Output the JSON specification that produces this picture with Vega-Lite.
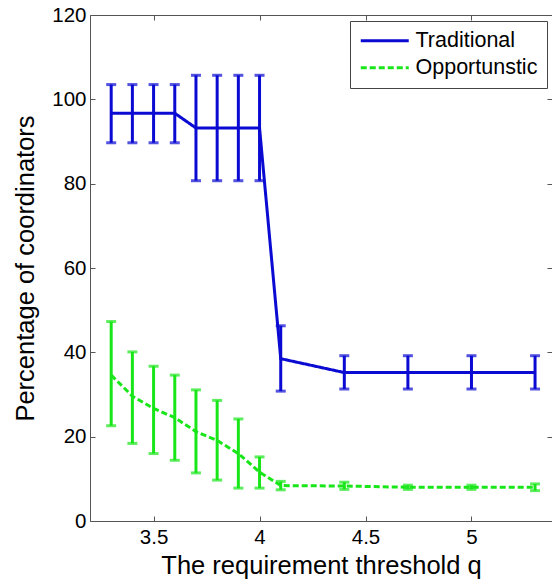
{
  "$schema": "https://vega.github.io/schema/vega-lite/v6.json",
  "width": 462,
  "height": 506,
  "autosize": {"type": "none"},
  "padding": {"left": 90, "top": 15, "right": 0, "bottom": 60},
  "config": {
    "view": {"stroke": null},
    "font": "Liberation Sans",
    "axis": {
      "grid": false,
      "domainColor": "#555555",
      "tickColor": "#555555",
      "tickSize": -5,
      "labelFont": "Liberation Sans",
      "labelFontSize": 20.5,
      "labelColor": "#000000",
      "titleFont": "Liberation Sans",
      "titleFontSize": 25.5,
      "titleFontWeight": "normal",
      "titleColor": "#000000"
    }
  },
  "data": {
    "values": [
      {"q": 3.3, "series": "Traditional", "mean": 96.7, "lo": 89.7, "hi": 103.5},
      {"q": 3.4, "series": "Traditional", "mean": 96.7, "lo": 89.7, "hi": 103.5},
      {"q": 3.5, "series": "Traditional", "mean": 96.7, "lo": 89.7, "hi": 103.5},
      {"q": 3.6, "series": "Traditional", "mean": 96.7, "lo": 89.7, "hi": 103.5},
      {"q": 3.7, "series": "Traditional", "mean": 93.2, "lo": 80.7, "hi": 105.7},
      {"q": 3.8, "series": "Traditional", "mean": 93.2, "lo": 80.7, "hi": 105.7},
      {"q": 3.9, "series": "Traditional", "mean": 93.2, "lo": 80.7, "hi": 105.7},
      {"q": 4.0, "series": "Traditional", "mean": 93.2, "lo": 80.7, "hi": 105.7},
      {"q": 4.1, "series": "Traditional", "mean": 38.5, "lo": 30.8, "hi": 46.3},
      {"q": 4.4, "series": "Traditional", "mean": 35.2, "lo": 31.3, "hi": 39.2},
      {"q": 4.7, "series": "Traditional", "mean": 35.2, "lo": 31.3, "hi": 39.2},
      {"q": 5.0, "series": "Traditional", "mean": 35.2, "lo": 31.3, "hi": 39.2},
      {"q": 5.3, "series": "Traditional", "mean": 35.2, "lo": 31.3, "hi": 39.2},
      {"q": 3.3, "series": "Opportunstic", "mean": 34.6, "lo": 22.6, "hi": 47.3},
      {"q": 3.4, "series": "Opportunstic", "mean": 29.6, "lo": 18.4, "hi": 40.1},
      {"q": 3.5, "series": "Opportunstic", "mean": 26.7, "lo": 16.0, "hi": 36.7},
      {"q": 3.6, "series": "Opportunstic", "mean": 24.5, "lo": 14.4, "hi": 34.6},
      {"q": 3.7, "series": "Opportunstic", "mean": 21.2, "lo": 11.4, "hi": 31.1},
      {"q": 3.8, "series": "Opportunstic", "mean": 19.1, "lo": 9.7, "hi": 28.6},
      {"q": 3.9, "series": "Opportunstic", "mean": 16.0, "lo": 7.8, "hi": 24.2},
      {"q": 4.0, "series": "Opportunstic", "mean": 11.6, "lo": 7.8, "hi": 15.2},
      {"q": 4.1, "series": "Opportunstic", "mean": 8.4, "lo": 7.4, "hi": 9.4},
      {"q": 4.4, "series": "Opportunstic", "mean": 8.3, "lo": 7.5, "hi": 9.2},
      {"q": 4.7, "series": "Opportunstic", "mean": 8.0, "lo": 7.5, "hi": 8.5},
      {"q": 5.0, "series": "Opportunstic", "mean": 8.0, "lo": 7.5, "hi": 8.5},
      {"q": 5.3, "series": "Opportunstic", "mean": 8.0, "lo": 7.2, "hi": 8.8}
    ]
  },
  "resolve": {
    "axis": {"x": "independent", "y": "independent"},
    "legend": {"color": "independent", "strokeDash": "independent"}
  },
  "layer": [
    {
      "mark": {"type": "rule", "strokeWidth": 3},
      "encoding": {
        "x": {"field": "q", "type": "quantitative", "scale": {"domain": [3.2, 5.38], "nice": false, "zero": false},
          "axis": {"orient": "top", "labels": false, "title": null, "values": [3.5, 4, 4.5, 5], "domain": true}},
        "y": {"field": "lo", "type": "quantitative", "scale": {"domain": [0, 120], "nice": false},
          "axis": {"orient": "right", "labels": false, "title": null, "domain": false, "values": [0, 20, 40, 60, 80, 100, 120]}},
        "y2": {"field": "hi"},
        "color": {"field": "series", "type": "nominal", "scale": {"domain": ["Traditional", "Opportunstic"], "range": ["#0a0ad2", "#19e619"]}, "legend": null}
      }
    },
    {
      "mark": {"type": "tick", "orient": "horizontal", "size": 10, "thickness": 3},
      "encoding": {
        "x": {"field": "q", "type": "quantitative", "axis": null},
        "y": {"field": "lo", "type": "quantitative", "axis": null},
        "color": {"field": "series", "type": "nominal", "legend": null}
      }
    },
    {
      "mark": {"type": "tick", "orient": "horizontal", "size": 10, "thickness": 3},
      "encoding": {
        "x": {"field": "q", "type": "quantitative", "axis": null},
        "y": {"field": "hi", "type": "quantitative", "axis": null},
        "color": {"field": "series", "type": "nominal", "legend": null}
      }
    },
    {
      "mark": {"type": "line", "strokeWidth": 3},
      "encoding": {
        "x": {"field": "q", "type": "quantitative",
          "axis": {"orient": "bottom", "title": "The requirement threshold q", "values": [3.5, 4, 4.5, 5], "format": "~g", "labelPadding": 11, "titleY": 52, "titleBaseline": "alphabetic"}},
        "y": {"field": "mean", "type": "quantitative",
          "axis": {"orient": "left", "title": "Percentage of coordinators", "values": [0, 20, 40, 60, 80, 100, 120], "labelPadding": 9, "titleX": -57, "titleBaseline": "alphabetic"}},
        "color": {"field": "series", "type": "nominal",
          "legend": {"orient": "none", "legendX": 260, "legendY": 6, "title": null,
            "symbolType": "M-1.8,0H7.8", "symbolSize": 100, "symbolStrokeWidth": 3,
            "labelFont": "Liberation Sans", "labelFontSize": 21.5, "labelColor": "#000000", "labelOffset": 35,
            "strokeColor": "#444444", "fillColor": "#ffffff", "padding": 9, "rowPadding": 4, "cornerRadius": 0}},
        "strokeDash": {"field": "series", "type": "nominal", "scale": {"domain": ["Traditional", "Opportunstic"], "range": [[1, 0], [6, 3]]}}
      }
    }
  ]
}
